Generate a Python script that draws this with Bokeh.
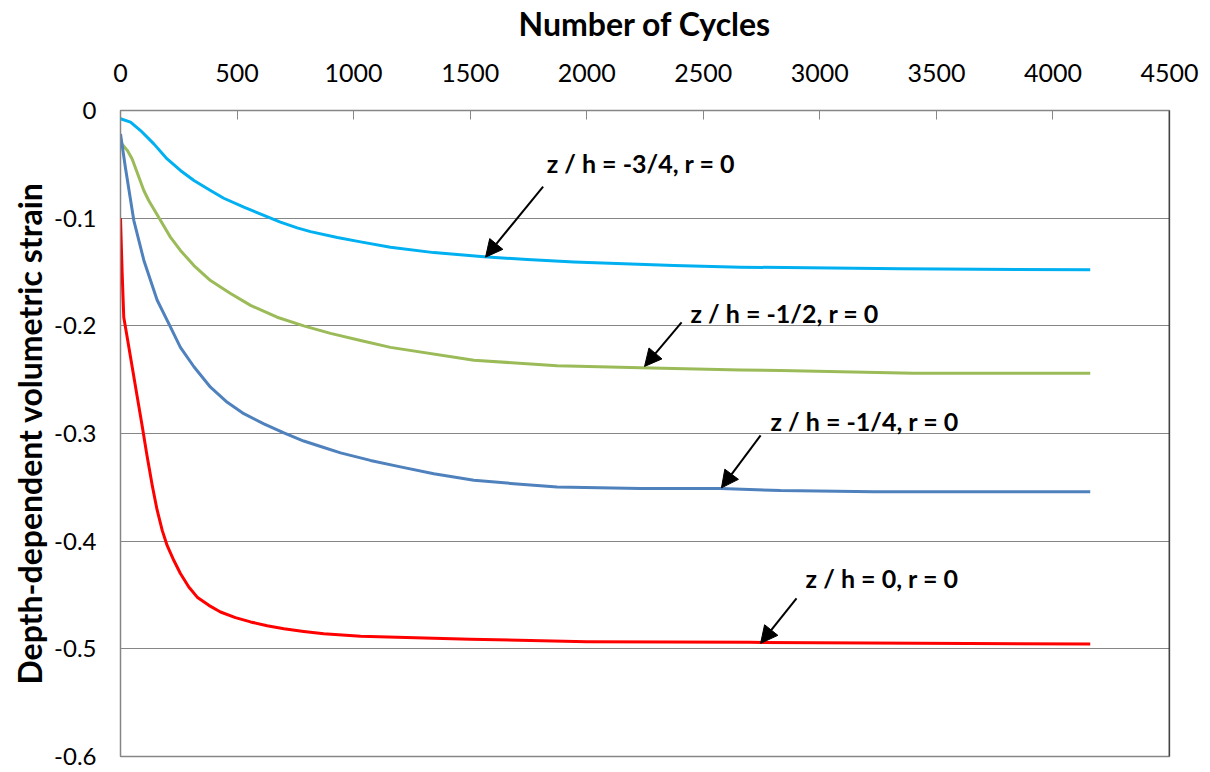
from bokeh.plotting import figure
from bokeh.models import Range1d, FixedTicker, Arrow, NormalHead, Span, CustomJSTickFormatter
from bokeh.core.properties import value
from bokeh.embed import file_html
from bokeh.resources import INLINE

# ---- data ----
cyc_34 = [0, 43, 86, 143, 200, 257, 315, 386, 443, 529, 615, 686, 758, 815, 930, 1030, 1158, 1344,
          1559, 1745, 1945, 2159, 2374, 2660, 3346, 4160]
eps_34 = [-0.0077, -0.0108, -0.0186, -0.031, -0.045, -0.0557, -0.065, -0.0743, -0.0815, -0.0898,
          -0.0975, -0.1037, -0.109, -0.1125, -0.118, -0.122, -0.127, -0.132,
          -0.1358, -0.1385, -0.1407, -0.1424, -0.1439, -0.1455, -0.147, -0.148]

cyc_12 = [0, 29, 50, 100, 121, 172, 214, 257, 315, 386, 472, 558, 672, 786, 901, 1030, 1158, 1516,
          1873, 2231, 2660, 2831, 3402, 4160]
eps_12 = [-0.0294, -0.037, -0.045, -0.0743, -0.0836, -0.1021, -0.1176, -0.130, -0.144, -0.158,
          -0.170, -0.181, -0.192, -0.200, -0.207, -0.2136, -0.220, -0.232,
          -0.237, -0.239, -0.241, -0.2414, -0.244, -0.244]

cyc_14 = [0, 21, 57, 100, 157, 214, 257, 315, 386, 458, 529, 615, 701, 786, 872, 944, 1072, 1201,
          1344, 1516, 1687, 1873, 2231, 2574, 2831, 3231, 4160]
eps_14 = [-0.0217, -0.053, -0.102, -0.139, -0.176, -0.201, -0.220, -0.238, -0.257, -0.271, -0.2816,
          -0.291, -0.2995, -0.307, -0.313, -0.318, -0.325, -0.331,
          -0.3373, -0.3435, -0.3466, -0.3497, -0.351, -0.351, -0.353, -0.354, -0.354]

cyc_0 = [0, 7, 14, 29, 50, 71, 93, 114, 136, 157, 179, 200, 229, 257, 293, 329, 379, 429, 493, 558,
         629, 701, 786, 872, 1030, 1500, 2000, 2700, 3200, 4160]
eps_0 = [-0.100, -0.150, -0.192, -0.211, -0.238, -0.265, -0.293, -0.321, -0.348, -0.371, -0.390,
         -0.404, -0.418, -0.430, -0.4426, -0.452, -0.4596, -0.4658, -0.471, -0.475,
         -0.4785, -0.4813, -0.4838, -0.486, -0.4884, -0.491, -0.4935, -0.494, -0.4945, -0.4955]

labels = ["z / h = -3/4, r = 0", "z / h = -1/2, r = 0", "z / h = -1/4, r = 0", "z / h = 0, r = 0"]
colors = ["#00B0F0", "#9BBB59", "#4F81BD", "#FF0000"]

x_ticks = [0, 500, 1000, 1500, 2000, 2500, 3000, 3500, 4000, 4500]
y_ticks = [0, -0.1, -0.2, -0.3, -0.4, -0.5, -0.6]

# annotation placement (data coords): text anchor (left, middle), arrow start, arrow tip
label_pos = [(1828, -0.0492), (2445, -0.1885), (2788, -0.288), (2939, -0.4345)]
arrow_pos = [((1813, -0.0706), (1566, -0.1362)),
             ((2407, -0.1968), (2248, -0.2377)),
             ((2746, -0.3018), (2578, -0.3505)),
             ((2900, -0.4531), (2746, -0.4949))]

GRAY = "#868686"
FONT = "Lato"

p = figure(width=1202, height=772, output_backend="svg", toolbar_location=None,
           x_range=Range1d(0, 4500), y_range=Range1d(-0.6, 0), x_axis_location="above",
           min_border_left=120, min_border_right=33, min_border_top=110, min_border_bottom=16)

series = [(cyc_34, eps_34), (cyc_12, eps_12), (cyc_14, eps_14), (cyc_0, eps_0)]
for (xs, ys), c in zip(series, colors):
    p.line(xs, ys, line_color=c, line_width=3, line_join="round")

# axes
xa = p.xaxis[0]
xa.ticker = FixedTicker(ticks=x_ticks)
xa.axis_label = "Number of Cycles"
xa.axis_label_text_font = FONT
xa.axis_label_text_font_style = "bold"
xa.axis_label_text_font_size = "32px"
xa.axis_label_text_color = "black"
xa.axis_label_standoff = 18
xa.major_label_text_font = FONT
xa.major_label_text_font_size = "25px"
xa.major_label_text_color = "black"
xa.major_label_standoff = 29
xa.axis_line_color = GRAY
xa.major_tick_line_color = GRAY
xa.major_tick_in = 9
xa.major_tick_out = 0
xa.minor_tick_line_color = None

ya = p.yaxis[0]
ya.ticker = FixedTicker(ticks=y_ticks)
ya.formatter = CustomJSTickFormatter(code="return Math.abs(tick) < 1e-9 ? '0' : tick.toFixed(1);")
ya.axis_label = "Depth-dependent volumetric strain"
ya.axis_label_text_font = FONT
ya.axis_label_text_font_style = "bold"
ya.axis_label_text_font_size = "32px"
ya.axis_label_text_color = "black"
ya.axis_label_standoff = 2
ya.major_label_text_font = FONT
ya.major_label_text_font_size = "24px"
ya.major_label_text_color = "black"
ya.major_label_standoff = 18
ya.axis_line_color = GRAY
ya.major_tick_line_color = None
ya.minor_tick_line_color = None

p.xgrid.grid_line_color = None
p.ygrid.ticker = FixedTicker(ticks=y_ticks)
p.ygrid.grid_line_color = GRAY
p.ygrid.grid_line_width = 1

p.outline_line_color = GRAY
p.outline_line_width = 1.5
p.add_layout(Span(location=x_ticks[-1], dimension="height", line_color="black", line_width=1.5))

# labels and arrows
tx = [lp[0] for lp in label_pos]
ty = [lp[1] for lp in label_pos]
p.text(x=tx, y=ty, text=labels, text_font=value(FONT), text_font_style="bold",
       text_font_size="25px", text_color="black", text_align="left", text_baseline="middle")

for (s, e) in arrow_pos:
    p.add_layout(Arrow(end=NormalHead(size=17, fill_color="black", line_color="black"),
                       x_start=s[0], y_start=s[1], x_end=e[0], y_end=e[1],
                       line_color="black", line_width=2))

p.background_fill_color = "white"
p.border_fill_color = "white"

open("out.html", "w").write(file_html(p, INLINE))
